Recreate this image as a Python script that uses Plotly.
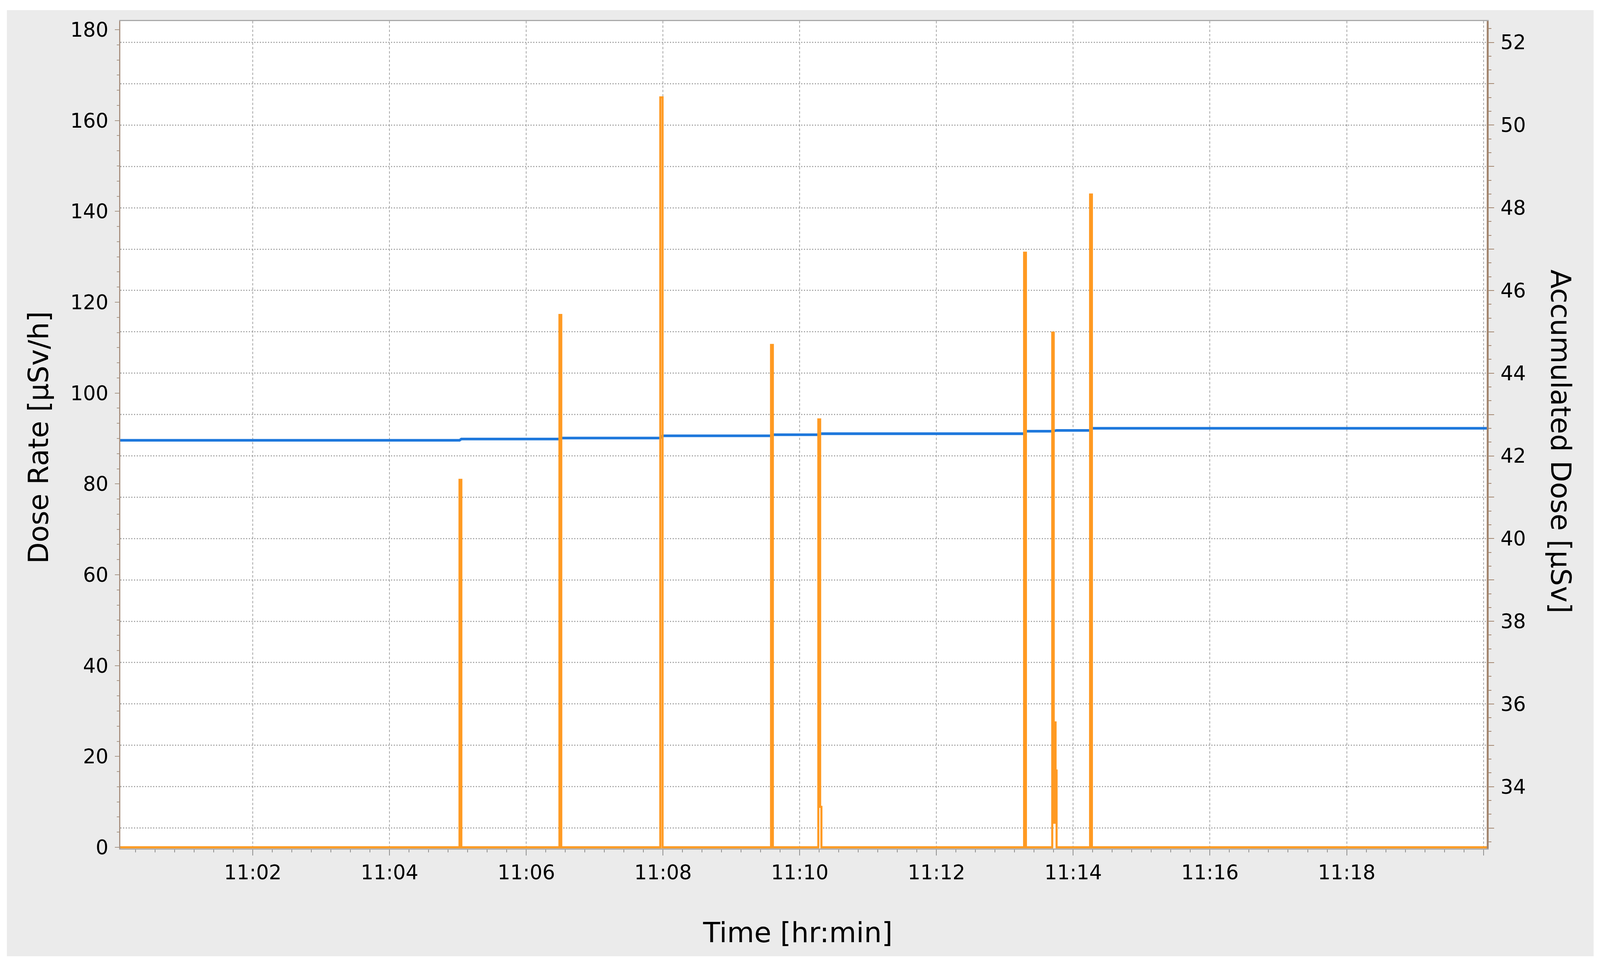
import plotly.graph_objects as go

DAY = "2024-01-01 "

# ---- data ----
x_start = "11:00:03.7"
x_end = "11:20:02.9"

# Dose rate [µSv/h], drawn as a step ('hv') series
rate_time = [
    "11:00:03.7",
    "11:05:01.4", "11:05:03.0",
    "11:06:29.1", "11:06:30.7",
    "11:07:57.6", "11:07:59.6",
    "11:09:34.8", "11:09:36.4",
    "11:10:16.3", "11:10:17.9", "11:10:19.0",
    "11:13:16.9", "11:13:18.5",
    "11:13:41.6", "11:13:42.9", "11:13:43.8", "11:13:44.5", "11:13:45.4",
    "11:14:14.8", "11:14:16.4",
    "11:20:02.9",
]
rate_value = [
    0,
    80.9, 0,
    117.2, 0,
    165.1, 0,
    110.6, 0,
    94.2, 8.9, 0,
    130.9, 0,
    113.3, 5.4, 27.5, 16.9, 0,
    143.7, 0,
    0,
]

# Accumulated dose [µSv]
dose_time = [
    "11:00:03.7",
    "11:05:01.4", "11:05:03.0",
    "11:06:29.1", "11:06:30.7",
    "11:07:57.6", "11:07:59.6",
    "11:09:34.8", "11:09:36.4",
    "11:10:16.3", "11:10:19.0",
    "11:13:16.9", "11:13:18.5",
    "11:13:41.6", "11:13:45.4",
    "11:14:14.8", "11:14:16.4",
    "11:20:02.9",
]
dose_value = [
    42.376,
    42.376, 42.408,
    42.408, 42.432,
    42.432, 42.486,
    42.486, 42.512,
    42.512, 42.536,
    42.536, 42.597,
    42.597, 42.616,
    42.616, 42.668,
    42.668,
]

x_tick_times = ["11:02", "11:04", "11:06", "11:08", "11:10", "11:12",
                "11:14", "11:16", "11:18", "11:20"]
x_tick_text = ["11:02", "11:04", "11:06", "11:08", "11:10", "11:12",
               "11:14", "11:16", "11:18", ""]

dose_tick_vals = [33, 34, 35, 36, 37, 38, 39, 40, 41, 42, 43, 44, 45, 46,
                  47, 48, 49, 50, 51, 52]
dose_tick_text = ["", "34", "", "36", "", "38", "", "40", "", "42", "", "44",
                  "", "46", "", "48", "", "50", "", "52"]

rate_range = [-0.26, 181.89]
dose_range = [32.505, 52.515]

FONT = "DejaVu Sans"
TICK_FONT = dict(family=FONT, size=53, color="black")
TITLE_FONT = dict(family=FONT, size=74, color="black")

fig = go.Figure()

fig.add_trace(go.Scatter(
    x=[DAY + t for t in dose_time], y=dose_value,
    mode="lines", line=dict(color="#1E78DC", width=7),
    yaxis="y", name="Accumulated Dose", hoverinfo="x+y",
))
fig.add_trace(go.Scatter(
    x=[DAY + t for t in rate_time], y=rate_value,
    mode="lines", line=dict(color="#FF9A22", width=5.5, shape="hv"),
    yaxis="y2", name="Dose Rate", hoverinfo="x+y",
))

brown = "#A3866F"
tick_gray = "#8E8E8E"

fig.update_layout(
    width=4401, height=2474, autosize=False,
    margin=dict(l=331, r=312, t=54, b=301, pad=0),
    paper_bgcolor="white", plot_bgcolor="white",
    showlegend=False,
    xaxis=dict(
        type="date",
        range=[DAY + x_start, DAY + x_end],
        tickmode="array",
        tickvals=[DAY + t for t in x_tick_times],
        ticktext=x_tick_text,
        ticks="outside", ticklen=15, tickwidth=2, tickcolor=tick_gray,
        showgrid=True, gridcolor="#A8A8A8", gridwidth=2, griddash="6px,5px",
        showline=True, linecolor="#A9A9A9", linewidth=3, mirror=True,
        zeroline=False,
        tickfont=TICK_FONT,
        minor=dict(tickmode="linear", tick0=DAY + "11:00:00", dtick=120000 / 7,
                   ticks="outside", ticklen=7, tickwidth=2, tickcolor=tick_gray,
                   showgrid=False),
    ),
    yaxis=dict(
        side="right",
        range=dose_range,
        tickmode="array", tickvals=dose_tick_vals, ticktext=dose_tick_text,
        ticks="outside", ticklen=15, tickwidth=2, tickcolor=brown,
        showgrid=True, gridcolor="#A8A8A8", gridwidth=3, griddash="3px,4px",
        showline=True, linecolor=brown, linewidth=5,
        zeroline=False,
        tickfont=TICK_FONT,
        ticklabelstandoff=6,
        minor=dict(tickmode="linear", tick0=0, dtick=1 / 3,
                   ticks="outside", ticklen=7, tickwidth=2, tickcolor=brown,
                   showgrid=False),
    ),
    yaxis2=dict(
        overlaying="y", side="left",
        range=rate_range,
        tickmode="linear", tick0=0, dtick=20,
        ticks="outside", ticklen=12, tickwidth=2, tickcolor="#A89888",
        showgrid=False, zeroline=False,
        showline=True, linecolor="#A89080", linewidth=3,
        tickfont=TICK_FONT,
        ticklabelstandoff=6,
        minor=dict(tickmode="linear", tick0=0, dtick=20 / 6,
                   ticks="outside", ticklen=6, tickwidth=2, tickcolor="#A89888",
                   showgrid=False),
    ),
    shapes=[
        dict(type="rect", xref="paper", yref="paper", layer="below",
             x0=-0.08302, x1=1.07823, y0=-0.13025, y1=1.01321,
             fillcolor="#EBEBEB", line=dict(width=0)),
        dict(type="rect", xref="paper", yref="paper", layer="below",
             x0=0, x1=1, y0=0, y1=1,
             fillcolor="white", line=dict(width=0)),
    ],
    annotations=[
        dict(text="Time [hr:min]", xref="paper", yref="paper",
             x=0.4957, y=-0.1019, xanchor="center", yanchor="middle",
             showarrow=False, font=TITLE_FONT),
        dict(text="Dose Rate [µSv/h]", xref="paper", yref="paper",
             x=-0.0601, y=0.4969, xanchor="center", yanchor="middle",
             textangle=-90, showarrow=False, font=TITLE_FONT),
        dict(text="Accumulated Dose [µSv]", xref="paper", yref="paper",
             x=1.0543, y=0.4917, xanchor="center", yanchor="middle",
             textangle=90, showarrow=False, font=TITLE_FONT),
    ],
)

# Re-lay the 4401x2474 design out onto the actual CSS viewport so the figure
# always fills the browser window exactly (margins/fonts scaled to match).
fit_script = """
(function(){
  var gd = document.getElementById('{plot_id}');
  var W = 4401, H = 2474;
  function fit(){
    document.documentElement.style.margin = '0';
    document.documentElement.style.overflow = 'hidden';
    document.body.style.margin = '0';
    document.body.style.overflow = 'hidden';
    var vw = window.innerWidth, vh = window.innerHeight;
    var sx = vw / W, sy = vh / H, f = Math.sqrt(sx * sy);
    var u = {
      width: vw, height: vh,
      'margin.l': 331 * sx, 'margin.r': 312 * sx,
      'margin.t': 54 * sy, 'margin.b': 301 * sy,
      'xaxis.tickfont.size': 53 * f,
      'yaxis.tickfont.size': 53 * f,
      'yaxis2.tickfont.size': 53 * f,
      'xaxis.ticklen': 15 * sy, 'xaxis.minor.ticklen': 7 * sy,
      'yaxis.ticklen': 15 * sx, 'yaxis.minor.ticklen': 7 * sx,
      'yaxis2.ticklen': 12 * sx, 'yaxis2.minor.ticklen': 6 * sx,
      'yaxis.ticklabelstandoff': Math.round(6 * sx),
      'yaxis2.ticklabelstandoff': Math.round(6 * sx),
      'annotations[0].font.size': 74 * f,
      'annotations[1].font.size': 74 * f,
      'annotations[2].font.size': 74 * f
    };
    Plotly.relayout(gd, u);
    Plotly.restyle(gd, {'line.width': [7 * f, 5.5 * f]});
  }
  fit();
  window.addEventListener('resize', fit);
})();
"""

fig.write_html("out.html", post_script=fit_script,
               config={"displayModeBar": False})
